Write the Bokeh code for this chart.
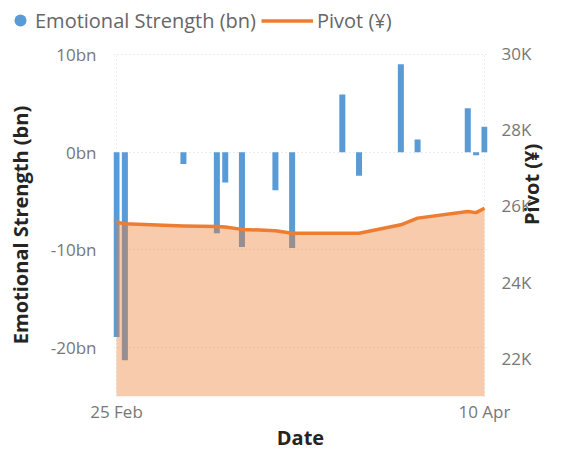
import math
import pandas as pd
from bokeh.plotting import figure
from bokeh.layouts import column
from bokeh.models import (Range1d, LinearAxis, FixedTicker, Legend, LegendItem,
                          ColumnDataSource, DatetimeTickFormatter)
from bokeh.embed import file_html
from bokeh.resources import INLINE

# ---- data ----
dates = ["2023-02-25", "2023-02-26", "2023-03-05", "2023-03-09", "2023-03-10",
         "2023-03-12", "2023-03-16", "2023-03-18", "2023-03-24", "2023-03-26",
         "2023-03-31", "2023-04-02", "2023-04-08", "2023-04-09", "2023-04-10"]
strength_bn = [-18.9, -21.3, -1.2, -8.3, -3.1, -9.7, -3.9, -9.8, 5.9, -2.4,
               9.0, 1.3, 4.5, -0.3, 2.6]
pivot_yen = [25570, 25535, 25475, 25460, 25445, 25385, 25350, 25285, 25285, 25285,
             25505, 25680, 25855, 25825, 25940]

left_ticks = [-20, -10, 0, 10]
left_labels = ["-20bn", "-10bn", "0bn", "10bn"]
right_ticks = [22000, 24000, 26000, 28000, 30000]
right_labels = ["22K", "24K", "26K", "28K", "30K"]
series_names = ["Emotional Strength (bn)", "Pivot (¥)"]

BLUE = "#5B9BD5"
ORANGE = "#ED7D31"
FONT = "Open Sans"
TICK_COLOR = "#777777"
TITLE_COLOR = "#252423"

x = pd.to_datetime(dates)
day = pd.Timedelta(days=1)
DAY_MS = 86400000
src = ColumnDataSource(dict(x=x, s=strength_bn, p=pivot_yen))

# ---------------- main chart ----------------
p = figure(width=564, height=413, x_axis_type="datetime",
           x_range=Range1d(x[0] - 0.36 * day, x[-1] + 0.36 * day),
           y_range=Range1d(-25, 10.1),
           output_backend="svg", toolbar_location=None,
           min_border_left=113, min_border_right=77,
           min_border_top=13, min_border_bottom=56)
p.extra_y_ranges = {"pivot": Range1d(21000, 30000)}
p.outline_line_color = None
p.background_fill_color = "white"

p.vbar(x="x", top="s", bottom=0, width=0.72 * DAY_MS, source=src,
       fill_color=BLUE, line_color=None)
p.varea(x="x", y1="p", y2=21000, source=src, y_range_name="pivot",
        fill_color=ORANGE, fill_alpha=0.4)
p.line("x", "p", source=src, y_range_name="pivot",
       line_color=ORANGE, line_width=3.5, line_join="round")

xt = [int(x[0].value // 10**6), int(x[-1].value // 10**6)]
xa = p.xaxis[0]
xa.ticker = FixedTicker(ticks=xt)
fmt = "%d %b"
xa.formatter = DatetimeTickFormatter(microseconds=fmt, milliseconds=fmt, seconds=fmt,
                                     minsec=fmt, minutes=fmt, hourmin=fmt, hours=fmt,
                                     days=fmt, months=fmt, years=fmt)
xa.axis_label = "Date"

ya = p.yaxis[0]
ya.ticker = FixedTicker(ticks=left_ticks)
ya.major_label_overrides = {t: l for t, l in zip(left_ticks, left_labels)}
ya.axis_label = series_names[0]

ra = LinearAxis(y_range_name="pivot", axis_label=series_names[1])
ra.ticker = FixedTicker(ticks=right_ticks)
ra.major_label_overrides = {t: l for t, l in zip(right_ticks, right_labels)}
ra.axis_label_orientation = math.pi / 2
p.add_layout(ra, "right")

for ax in (xa, ya, ra):
    ax.axis_line_color = None
    ax.major_tick_line_color = None
    ax.minor_tick_line_color = None
    ax.major_tick_out = 0
    ax.major_tick_in = 0
    ax.major_label_text_font = FONT
    ax.major_label_text_font_size = "17px"
    ax.major_label_text_color = TICK_COLOR
    ax.axis_label_text_font = FONT
    ax.axis_label_text_font_size = "20px"
    ax.axis_label_text_font_style = "bold"
    ax.axis_label_text_color = TITLE_COLOR

xa.major_label_standoff = 3
xa.axis_label_standoff = -2
ya.major_label_standoff = 17
ya.axis_label_standoff = 14
ra.major_label_standoff = 14
ra.axis_label_standoff = -3

p.xgrid.ticker = FixedTicker(ticks=xt)
p.ygrid.ticker = FixedTicker(ticks=left_ticks)
for g in (p.xgrid[0], p.ygrid[0]):
    g.grid_line_color = "#d5dbe2"
    g.grid_line_dash = "1 3"
    g.grid_line_width = 1

# ---------------- legend strip on top ----------------
lg = figure(width=564, height=40, x_range=Range1d(0, 1), y_range=Range1d(0, 1),
            output_backend="svg", toolbar_location=None,
            x_axis_location=None, y_axis_location=None,
            min_border_left=0, min_border_right=0, min_border_top=0,
            min_border_bottom=0)
lg.outline_line_color = None
lg.xgrid.visible = False
lg.ygrid.visible = False
for fig in (lg, p):
    if "frame_align" in fig.properties():
        fig.frame_align = False

nan = float("nan")
dot = lg.scatter(x=[nan], y=[nan], marker="circle", fill_color=BLUE, line_color=None)
seg = lg.line(x=[nan], y=[nan], line_color=ORANGE, line_width=3.5)

common = dict(orientation="horizontal", padding=0, margin=0, spacing=0,
              border_line_color=None, background_fill_alpha=0,
              label_text_font=FONT, label_text_font_size="20px",
              label_text_color="#666666")
leg1 = Legend(items=[LegendItem(label=series_names[0], renderers=[dot])],
              location=(5, 1), glyph_width=30, glyph_height=38, label_standoff=0,
              **common)
leg2 = Legend(items=[LegendItem(label=series_names[1], renderers=[seg])],
              location=(261, 6), glyph_width=52, glyph_height=27, label_standoff=4,
              **common)
lg.add_layout(leg1, "center")
lg.add_layout(leg2, "center")

layout = column(lg, p, spacing=0)
open("out.html", "w").write(file_html(layout, INLINE))
